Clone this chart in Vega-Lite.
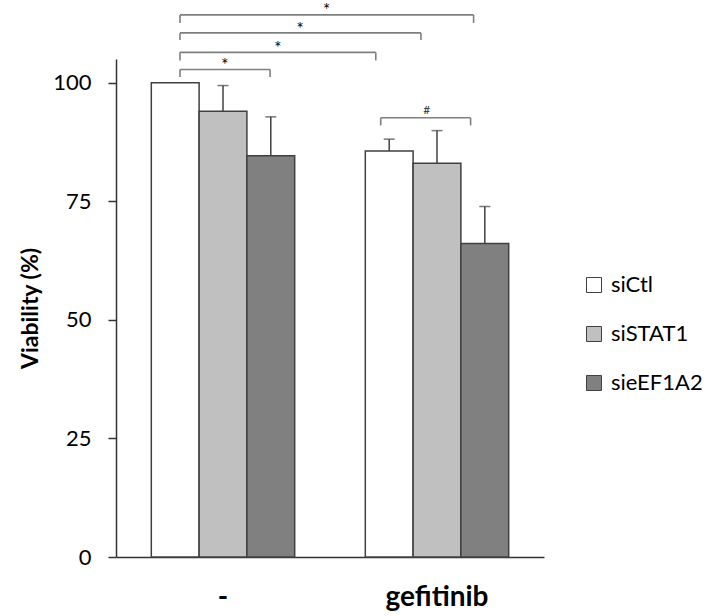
{
  "$schema": "https://vega.github.io/schema/vega-lite/v6.json",
  "width": 428,
  "height": 498,
  "autosize": {"type": "none"},
  "padding": {"left": 116, "top": 59, "right": 163, "bottom": 59},
  "background": "white",
  "config": {
    "view": {"stroke": null},
    "font": "Lato",
    "axis": {"grid": false}
  },
  "datasets": {
    "bars": [
      {"treatment": "-", "siRNA": "siCtl", "viability": 100, "upper": null},
      {"treatment": "-", "siRNA": "siSTAT1", "viability": 94.0, "upper": 99.4},
      {"treatment": "-", "siRNA": "sieEF1A2", "viability": 84.6, "upper": 92.8},
      {"treatment": "gefitinib", "siRNA": "siCtl", "viability": 85.6, "upper": 88.1},
      {"treatment": "gefitinib", "siRNA": "siSTAT1", "viability": 83.0, "upper": 89.9},
      {"treatment": "gefitinib", "siRNA": "sieEF1A2", "viability": 66.1, "upper": 73.9}
    ],
    "brackets": [
      {"label": "*", "start": 0.299, "end": 1.671, "mid": 0.984, "level": 114.3, "foot": 112.6, "label_y": 115.9},
      {"label": "*", "start": 0.299, "end": 1.425, "mid": 0.860, "level": 110.5, "foot": 109.0, "label_y": 111.9},
      {"label": "*", "start": 0.299, "end": 1.214, "mid": 0.756, "level": 106.4, "foot": 104.7, "label_y": 107.9},
      {"label": "*", "start": 0.299, "end": 0.720, "mid": 0.509, "level": 102.8, "foot": 101.2, "label_y": 104.4},
      {"label": "#", "start": 1.237, "end": 1.657, "mid": 1.452, "level": 92.6, "foot": 91.0, "label_y": 94.4}
    ]
  },
  "layer": [
    {
      "data": {"name": "bars"},
      "encoding": {
        "x": {
          "field": "treatment",
          "type": "nominal",
          "sort": ["-", "gefitinib"],
          "scale": {"paddingInner": 0.33, "paddingOuter": 0.165},
          "axis": {
            "title": null,
            "ticks": false,
            "tickSize": 0,
            "labelAngle": 0,
            "labelFont": "Lato",
            "labelFontSize": 28,
            "labelFontWeight": "bold",
            "labelColor": "black",
            "labelPadding": 26,
            "domainColor": "#333333",
            "domainWidth": 1.5
          }
        },
        "xOffset": {
          "field": "siRNA",
          "type": "nominal",
          "sort": ["siCtl", "siSTAT1", "sieEF1A2"],
          "scale": {"paddingInner": 0, "paddingOuter": 0}
        }
      },
      "layer": [
        {
          "mark": {"type": "bar", "stroke": "#404040", "strokeWidth": 1.5},
          "encoding": {
            "y": {
              "field": "viability",
              "type": "quantitative",
              "scale": {"domain": [0, 105], "nice": false, "zero": true},
              "axis": {
                "title": "Viability (%)",
                "titleFont": "Lato",
                "titleFontSize": 23,
                "titleFontWeight": "bold",
                "titleColor": "black",
                "titleX": -86,
                "titleY": 249,
                "titleBaseline": "middle",
                "values": [0, 25, 50, 75, 100],
                "tickSize": 8,
                "tickColor": "#333333",
                "tickWidth": 1.5,
                "domainColor": "#333333",
                "domainWidth": 1.5,
                "labelFont": "Lato",
                "labelFontSize": 22,
                "labelColor": "black",
                "labelPadding": 17
              }
            },
            "color": {
              "field": "siRNA",
              "type": "nominal",
              "sort": ["siCtl", "siSTAT1", "sieEF1A2"],
              "scale": {"domain": ["siCtl", "siSTAT1", "sieEF1A2"], "range": ["#ffffff", "#c0c0c0", "#808080"]},
              "legend": {
                "title": null,
                "orient": "none",
                "legendX": 467,
                "legendY": 215,
                "padding": 0,
                "symbolType": "square",
                "symbolSize": 225,
                "symbolStrokeColor": "#404040",
                "symbolStrokeWidth": 1,
                "labelFont": "Lato",
                "labelFontSize": 22,
                "labelColor": "black",
                "labelOffset": 6,
                "rowPadding": 27
              }
            }
          }
        },
        {
          "transform": [{"filter": "isValid(datum.upper)"}],
          "mark": {"type": "rule", "color": "#404040", "strokeWidth": 1.5},
          "encoding": {
            "y": {"field": "viability", "type": "quantitative", "scale": {"domain": [0, 105], "nice": false}},
            "y2": {"field": "upper"}
          }
        },
        {
          "transform": [{"filter": "isValid(datum.upper)"}],
          "mark": {"type": "tick", "color": "#404040", "size": 11, "thickness": 1.5, "orient": "horizontal"},
          "encoding": {
            "y": {"field": "upper", "type": "quantitative", "scale": {"domain": [0, 105], "nice": false}}
          }
        }
      ]
    },
    {
      "data": {"name": "brackets"},
      "encoding": {
        "x": {"field": "start", "type": "quantitative", "scale": {"domain": [0, 2], "nice": false, "zero": false}, "axis": null}
      },
      "layer": [
        {
          "mark": {"type": "rule", "color": "#7f7f7f", "strokeWidth": 1.6},
          "encoding": {
            "x2": {"field": "end"},
            "y": {"field": "level", "type": "quantitative", "scale": {"domain": [0, 105], "nice": false}}
          }
        },
        {
          "mark": {"type": "rule", "color": "#7f7f7f", "strokeWidth": 1.6},
          "encoding": {
            "y": {"field": "level", "type": "quantitative", "scale": {"domain": [0, 105], "nice": false}},
            "y2": {"field": "foot"}
          }
        },
        {
          "mark": {"type": "rule", "color": "#7f7f7f", "strokeWidth": 1.6},
          "encoding": {
            "x": {"field": "end", "type": "quantitative", "scale": {"domain": [0, 2], "nice": false, "zero": false}, "axis": null},
            "y": {"field": "level", "type": "quantitative", "scale": {"domain": [0, 105], "nice": false}},
            "y2": {"field": "foot"}
          }
        },
        {
          "transform": [{"filter": "datum.label === '*'"}],
          "mark": {"type": "text", "font": "Lato", "fontSize": 17, "baseline": "middle", "align": "center", "dy": 4, "color": "black"},
          "encoding": {
            "x": {"field": "mid", "type": "quantitative", "scale": {"domain": [0, 2], "nice": false, "zero": false}, "axis": null},
            "y": {"field": "label_y", "type": "quantitative", "scale": {"domain": [0, 105], "nice": false}},
            "text": {"field": "label"}
          }
        },
        {
          "transform": [{"filter": "datum.label === '#'"}],
          "mark": {"type": "text", "font": "Lato", "fontSize": 12, "baseline": "middle", "align": "center", "dy": 1, "color": "#333333"},
          "encoding": {
            "x": {"field": "mid", "type": "quantitative", "scale": {"domain": [0, 2], "nice": false, "zero": false}, "axis": null},
            "y": {"field": "label_y", "type": "quantitative", "scale": {"domain": [0, 105], "nice": false}},
            "text": {"field": "label"}
          }
        }
      ]
    }
  ],
  "resolve": {"scale": {"x": "independent"}}
}
